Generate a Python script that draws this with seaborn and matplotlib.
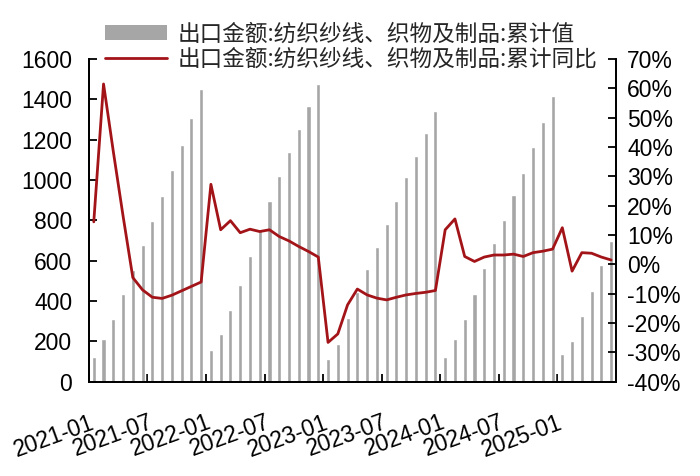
import numpy as np
import pandas as pd
import matplotlib
matplotlib.use("Agg")
import matplotlib.pyplot as plt
import matplotlib.transforms as mtransforms
from matplotlib.patches import Patch
from matplotlib.lines import Line2D
from matplotlib.ticker import FuncFormatter
import seaborn as sns

# cumulative export value (100 million USD), by year, Jan..Dec
val_2021 = [122, 213, 311, 434, 555, 679, 796, 923, 1050, 1174, 1309, 1452]
val_2022 = [159, 239, 357, 480, 624, 758, 897, 1019, 1141, 1253, 1367, 1478]
val_2023 = [115, 185, 314, 443, 561, 670, 784, 898, 1016, 1121, 1232, 1343]
val_2024 = [125, 210, 312, 436, 565, 687, 803, 928, 1037, 1166, 1288, 1418]
val_2025 = [140, 203, 324, 452, 580, 700]

# cumulative yoy (%)
yoy_2021 = [14.5, 61.5, 38.5, 16.5, -4.5, -8.7, -11.2, -11.6, -10.5, -9.0, -7.5, -6.0]
yoy_2022 = [27.3, 11.8, 14.9, 10.8, 12.0, 11.2, 11.8, 9.5, 8.0, 6.1, 4.4, 2.5]
yoy_2023 = [-26.6, -23.7, -13.8, -8.4, -10.4, -11.5, -12.1, -11.2, -10.4, -9.9, -9.5, -8.9]
yoy_2024 = [11.8, 15.5, 2.7, 1.0, 2.5, 3.2, 3.2, 3.5, 2.7, 4.0, 4.5, 5.2]
yoy_2025 = [12.5, -2.3, 4.0, 3.8, 2.5, 1.5]

tick_labels = ["2021-01", "2021-07", "2022-01", "2022-07", "2023-01",
               "2023-07", "2024-01", "2024-07", "2025-01"]

name_val = "出口金额:纺织纱线、织物及制品:累计值"
name_yoy = "出口金额:纺织纱线、织物及制品:累计同比"

values = val_2021 + val_2022 + val_2023 + val_2024 + val_2025
yoy = yoy_2021 + yoy_2022 + yoy_2023 + yoy_2024 + yoy_2025
months = pd.date_range("2021-01-01", periods=len(values), freq="MS").strftime("%Y-%m")
df = pd.DataFrame({"month": months, "pos": np.arange(len(values)),
                   "value": values, "yoy": yoy})

sns.set_theme(style="ticks")
plt.rcParams['font.family'] = ['Liberation Sans', 'Noto Sans CJK SC', 'DejaVu Sans']

bar_color = "#A6A6A6"
line_color = "#A31419"

fig = plt.figure(figsize=(7, 4.76), dpi=100)
ax = fig.add_axes([0.127, 0.198, 0.753, 0.678])

sns.barplot(data=df, x="month", y="value", ax=ax, color=bar_color,
            width=0.42, saturation=1, errorbar=None)
ax2 = ax.twinx()
sns.lineplot(data=df, x="pos", y="yoy", ax=ax2, color=line_color, linewidth=2)

n = len(values)
ax.set_xlim(-0.5, n - 0.5)
ax.set_ylim(0, 1600)
ax.set_yticks(np.arange(0, 1601, 200))
ax2.set_ylim(-40, 70)
ax2.set_yticks(np.arange(-40, 71, 10))
ax2.yaxis.set_major_formatter(FuncFormatter(lambda v, p: f"{v:.0f}%"))

for a in (ax, ax2):
    a.set_xlabel("")
    a.set_ylabel("")
    a.spines["top"].set_visible(False)
    for s in ("left", "right", "bottom"):
        a.spines[s].set_visible(True)
        a.spines[s].set_color("black")
        a.spines[s].set_linewidth(1.3)
        a.spines[s].set_zorder(5)

ax.tick_params(axis="y", direction="in", length=6, width=1.3, pad=12,
               labelsize=16.5, colors="black")
ax.tick_params(axis="x", direction="in", length=6, width=1.3, pad=21,
               labelsize=16.5, colors="black")
ax2.tick_params(axis="y", direction="in", length=6, width=1.3, pad=8,
                labelsize=16.5, colors="black")

ax.set_xticks(np.arange(len(tick_labels)) * 6 - 0.5)
ax.set_xticklabels(tick_labels, rotation=20, ha="right", va="top")
shift = mtransforms.ScaledTranslation(6 / 72, 0, fig.dpi_scale_trans)
for lab in ax.get_xticklabels():
    lab.set_transform(lab.get_transform() + shift)

handles = [Patch(facecolor=bar_color, edgecolor="none"),
           Line2D([0], [0], color=line_color, linewidth=2)]
fig.legend(handles, [name_val, name_yoy], loc="upper left",
           bbox_to_anchor=(0.15, 0.953), frameon=False, borderpad=0,
           borderaxespad=0, handlelength=2.75, handletextpad=0.45,
           labelspacing=0.12,
           prop={"family": ["Noto Sans CJK SC", "DejaVu Sans"], "size": 16.3})

fig.savefig("out.png", dpi=100)
